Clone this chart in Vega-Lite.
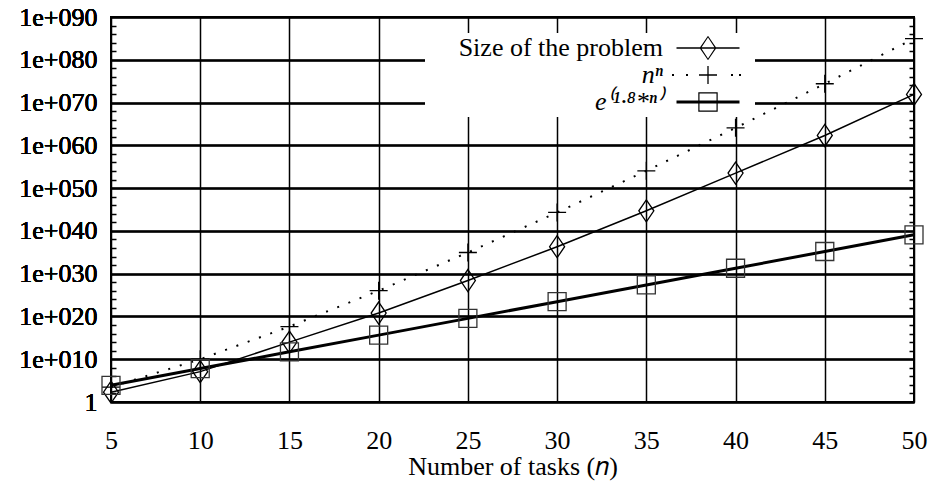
{
  "$schema": "https://vega.github.io/schema/vega-lite/v6.json",
  "width": 803,
  "height": 385,
  "autosize": "none",
  "padding": {"left": 111, "top": 17, "right": 18, "bottom": 80},
  "background": "white",
  "config": {
    "font": "Liberation Serif",
    "view": {"stroke": "black", "strokeWidth": 2},
    "axis": {"labelColor": "black", "titleColor": "black", "tickColor": "black"}
  },
  "data": {
    "values": [
      {"n": 5, "s": "size", "value": 2.0e2},
      {"n": 10, "s": "size", "value": 1.26e7},
      {"n": 15, "s": "size", "value": 1.0e14},
      {"n": 20, "s": "size", "value": 6.3e20},
      {"n": 25, "s": "size", "value": 2.5e28},
      {"n": 30, "s": "size", "value": 2.0e36},
      {"n": 35, "s": "size", "value": 5.0e44},
      {"n": 40, "s": "size", "value": 3.2e53},
      {"n": 45, "s": "size", "value": 2.0e62},
      {"n": 50, "s": "size", "value": 7.9e71},
      {"n": 5, "s": "nn", "value": 3125},
      {"n": 10, "s": "nn", "value": 1e10},
      {"n": 15, "s": "nn", "value": 4.38e17},
      {"n": 20, "s": "nn", "value": 1.05e26},
      {"n": 25, "s": "nn", "value": 8.88e34},
      {"n": 30, "s": "nn", "value": 2.06e44},
      {"n": 35, "s": "nn", "value": 1.10e54},
      {"n": 40, "s": "nn", "value": 1.21e64},
      {"n": 45, "s": "nn", "value": 2.48e74},
      {"n": 50, "s": "nn", "value": 8.88e84},
      {"n": 5, "s": "exp", "value": 8103},
      {"n": 10, "s": "exp", "value": 6.57e7},
      {"n": 15, "s": "exp", "value": 5.32e11},
      {"n": 20, "s": "exp", "value": 4.31e15},
      {"n": 25, "s": "exp", "value": 3.49e19},
      {"n": 30, "s": "exp", "value": 2.83e23},
      {"n": 35, "s": "exp", "value": 2.30e27},
      {"n": 40, "s": "exp", "value": 1.86e31},
      {"n": 45, "s": "exp", "value": 1.51e35},
      {"n": 50, "s": "exp", "value": 1.22e39}
    ]
  },
  "encoding": {
    "x": {
      "field": "n", "type": "quantitative",
      "scale": {"domain": [5, 50], "nice": false, "zero": false},
      "axis": {
        "values": [5, 10, 15, 20, 25, 30, 35, 40, 45, 50],
        "grid": true, "gridColor": "black", "gridWidth": 1.5, "gridOpacity": 1,
        "domain": false, "ticks": false, "tickSize": 0,
        "labelFlush": false, "labelFontSize": 26, "labelPadding": 25,
        "title": "Number of tasks (𝑛)", "titleFontSize": 26, "titleFontWeight": "normal", "titlePadding": 0
      }
    },
    "y": {
      "field": "value", "type": "quantitative",
      "scale": {"type": "log", "domain": [1, 1e90], "nice": false},
      "axis": {
        "orient": "left",
        "values": [1, 1e10, 1e20, 1e30, 1e40, 1e50, 1e60, 1e70, 1e80, 1e90],
        "grid": true, "gridColor": "black", "gridWidth": 1.5, "gridOpacity": 1,
        "domain": false, "ticks": false, "tickSize": 0,
        "labelExpr": "datum.value < 2 ? '1' : '1e+0' + round(log(datum.value)/LN10)",
        "labelFontSize": 26, "labelPadding": 14, "labelOverlap": false,
        "title": null
      }
    }
  },
  "layer": [
    {"transform": [{"filter": "datum.s == 'size'"}], "mark": {"type": "line", "color": "black", "strokeWidth": 1.5}},
    {"transform": [{"filter": "datum.s == 'nn'"}], "mark": {"type": "line", "color": "black", "strokeWidth": 2, "strokeDash": [2, 10]}},
    {"transform": [{"filter": "datum.s == 'exp'"}], "mark": {"type": "line", "color": "black", "strokeWidth": 3}},
    {"transform": [{"filter": "datum.s == 'size'"}], "mark": {"type": "point", "shape": "M0,-11L7.5,0L0,11L-7.5,0Z", "size": 4, "filled": false, "color": "black", "strokeWidth": 1.3, "opacity": 1}},
    {"transform": [{"filter": "datum.s == 'nn'"}], "mark": {"type": "point", "shape": "M-9,0L9,0M0,-9L0,9", "size": 4, "filled": false, "color": "black", "strokeWidth": 1.3, "opacity": 1}},
    {"transform": [{"filter": "datum.s == 'exp'"}], "mark": {"type": "point", "shape": "M-9,-9L9,-9L9,9L-9,9Z", "size": 4, "filled": false, "color": "#333333", "strokeWidth": 1.3, "opacity": 1}},
    {
      "transform": [{"filter": "datum.n < 0"}],
      "mark": {"type": "point", "filled": true, "color": "black", "size": 4, "strokeWidth": 0, "opacity": 1},
      "encoding": {
        "y": {
          "field": "value", "type": "quantitative",
          "scale": {"type": "log", "domain": [1, 1e90], "nice": false},
          "axis": {
            "orient": "left", "offset": -5,
            "values": [1e2, 1e4, 1e6, 1e8, 1e12, 1e14, 1e16, 1e18, 1e22, 1e24, 1e26, 1e28, 1e32, 1e34, 1e36, 1e38, 1e42, 1e44, 1e46, 1e48, 1e52, 1e54, 1e56, 1e58, 1e62, 1e64, 1e66, 1e68, 1e72, 1e74, 1e76, 1e78, 1e82, 1e84, 1e86, 1e88],
            "grid": false, "labels": false, "domain": false, "ticks": true, "tickSize": 5, "tickWidth": 1.5, "title": null
          }
        },
        "shape": {
          "field": "s", "type": "nominal",
          "scale": {
            "domain": ["size", "nn", "exp"],
            "range": [
              "M45,0L45,0.01M-31.5,-0.7H31.5V0.7H-31.5ZM0,-12.2L8.4,0L0,12.2L-8.4,0ZM0,-10.4L-6.9,0L0,10.4L6.9,0Z",
              "M45,0L45,0.01M-9,-0.65H9V0.65H-9ZM-0.65,-9H0.65V9H-0.65ZM-36,-1H-34V1H-36ZM-22,-1H-20V1H-22ZM23,-1H25V1H23ZM31,-1H33V1H31Z",
              "M45,0L45,0.01M-31.5,-1.6H31.5V1.6H-31.5ZM-9.7,-9.7H9.7V9.7H-9.7ZM-8.5,-8.5V8.5H8.5V-8.5Z"
            ]
          },
          "legend": {
            "orient": "none", "legendX": 314, "legendY": 16, "direction": "vertical",
            "title": null, "fillColor": "white", "padding": 2,
            "labelExpr": "datum.value == 'size' ? 'Size of the problem' : datum.value == 'nn' ? 'nⁿ' : 'e⁽¹·⁸*ⁿ⁾'",
            "labelFontStyle": {"expr": "datum.value == 'size' ? 'normal' : 'italic'"},
            "labelFontSize": 26, "labelFont": "Liberation Serif", "labelColor": "black",
            "labelAlign": "right", "labelBaseline": "middle", "labelOffset": -58, "labelLimit": 400,
            "symbolOffset": 268, "symbolSize": 4, "symbolStrokeWidth": 0, "symbolFillColor": "black",
            "rowPadding": 1
          }
        }
      }
    },
    {
      "transform": [{"filter": "datum.n < 0"}],
      "mark": {"type": "point", "size": 4, "opacity": 0},
      "encoding": {
        "y": {
          "field": "value", "type": "quantitative",
          "scale": {"type": "log", "domain": [1, 1e90], "nice": false},
          "axis": {
            "orient": "right", "offset": -5,
            "values": [1e2, 1e4, 1e6, 1e8, 1e12, 1e14, 1e16, 1e18, 1e22, 1e24, 1e26, 1e28, 1e32, 1e34, 1e36, 1e38, 1e42, 1e44, 1e46, 1e48, 1e52, 1e54, 1e56, 1e58, 1e62, 1e64, 1e66, 1e68, 1e72, 1e74, 1e76, 1e78, 1e82, 1e84, 1e86, 1e88],
            "grid": false, "labels": false, "domain": false, "ticks": true, "tickSize": 5, "tickWidth": 1.5, "title": null
          }
        }
      }
    }
  ]
}
